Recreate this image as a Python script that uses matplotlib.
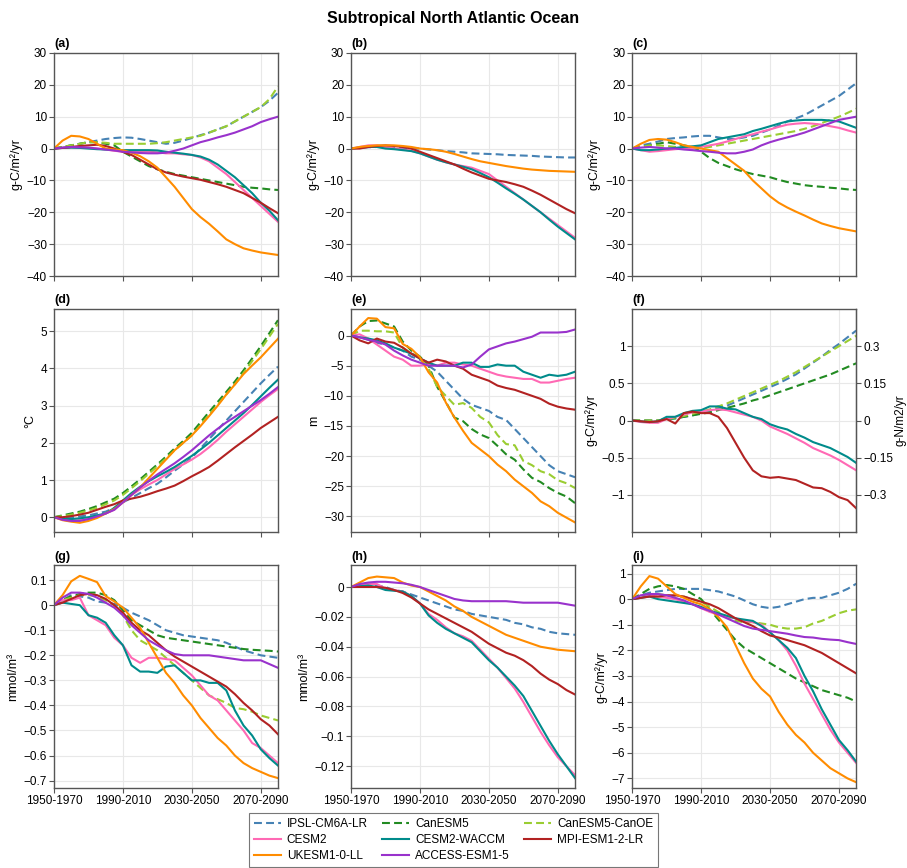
import numpy as np
import matplotlib
matplotlib.use("Agg")
import matplotlib.pyplot as plt
from matplotlib.ticker import FuncFormatter

plt.rcParams['font.family'] = ['Liberation Sans', 'DejaVu Sans']
plt.rcParams['axes.unicode_minus'] = True

# 20-yr window start years (1950-1970 ... 2080-2100), 5-yr steps
years = list(range(1950, 2081, 5))
period_ticks = [1950, 1990, 2030, 2070]
period_labels = ["1950-1970", "1990-2010", "2030-2050", "2070-2090"]

models = ["IPSL-CM6A-LR", "CanESM5", "CanESM5-CanOE", "CESM2", "CESM2-WACCM",
          "MPI-ESM1-2-LR", "UKESM1-0-LL", "ACCESS-ESM1-5"]
colors = {"IPSL-CM6A-LR": "#4682B4", "CanESM5": "#228B22", "CanESM5-CanOE": "#9ACD32",
          "CESM2": "#FF69B4", "CESM2-WACCM": "#008B8B", "MPI-ESM1-2-LR": "#B22222",
          "UKESM1-0-LL": "#FF8C00", "ACCESS-ESM1-5": "#9932CC"}
dashed = {"IPSL-CM6A-LR", "CanESM5", "CanESM5-CanOE"}

# (a) g-C/m2/yr
panel_a = {
    "IPSL-CM6A-LR": [0, 0.5, 1, 1.5, 2, 2.5, 3, 3.3, 3.5, 3.4, 3, 2.5, 2, 1.5, 1.8, 2.5, 3.3, 4.2, 5, 6, 7, 8.5, 10, 11.5, 13, 15, 17.5],
    "CanESM5": [0, 0.5, 1, 1.5, 2, 2, 1.5, 1, -1, -2.5, -4, -5.5, -6.5, -7.3, -8, -8.5, -9, -9.5, -10, -10.5, -11, -11.5, -12, -12.3, -12.5, -12.8, -13],
    "CanESM5-CanOE": [0, 0.5, 1, 1.5, 2, 2, 1.8, 1.5, 1.5, 1.5, 1.5, 1.5, 1.7, 2, 2.5, 3, 3.5, 4, 5, 6, 7, 8.5, 10, 11.5, 13, 15.5, 19.5],
    "CESM2": [0, 0.2, 0.3, 0.3, 0.2, 0, -0.3, -0.7, -1, -1, -1, -1, -1.2, -1.5, -1.5, -1.8, -2, -2.8, -4, -6, -8, -10.5, -13, -15.5, -18, -20.5, -23],
    "CESM2-WACCM": [0, 0.2, 0.3, 0.2, 0, -0.2, -0.3, -0.4, -0.5, -0.5, -0.5, -0.5, -0.6, -1, -1.3, -1.6, -2, -2.5, -3.5, -5, -7, -9, -11.5, -14, -17, -19.5, -22.5],
    "MPI-ESM1-2-LR": [0, 0.2, 0.5, 0.8, 1, 1.2, 0.8, 0, -1, -2, -3.5, -5, -6.5, -7.5, -8.2, -8.8, -9.3, -9.8, -10.5, -11.2, -12, -13, -14, -15.5, -17, -18.7, -20.3],
    "UKESM1-0-LL": [0, 2.5, 4, 3.8, 3, 1.5, 0, -0.3, -0.5, -1.3, -2.4, -4, -6, -9, -12, -15.5, -19, -21.5, -23.6, -26, -28.5, -30, -31.3, -32, -32.6, -33, -33.4],
    "ACCESS-ESM1-5": [0, 0.3, 0.5, 0.4, 0.3, 0, -0.3, -0.6, -1, -1.2, -1.4, -1.5, -1.5, -1.3, -0.7, 0, 1, 2, 2.7, 3.5, 4.2, 5, 6, 7, 8.3, 9.2, 10],
}

# (b) g-C/m2/yr
panel_b = {
    "IPSL-CM6A-LR": [0, 0.2, 0.4, 0.5, 0.4, 0.2, 0.1, 0, 0, -0.3, -0.5, -0.8, -1, -1.2, -1.5, -1.6, -1.7, -1.8, -2, -2.1, -2.2, -2.3, -2.5, -2.6, -2.7, -2.8, -2.8],
    "CESM2": [0, 0.5, 1, 1, 0.5, 0, -0.3, -0.7, -1.5, -2.5, -3.5, -4.3, -5, -5.5, -6, -7, -8, -10, -12, -14, -16, -18, -20, -22, -24, -26, -28],
    "CESM2-WACCM": [0, 0.3, 0.5, 0.5, 0, -0.2, -0.5, -0.8, -1.5, -2.5, -3.5, -4.3, -5, -5.7, -6.5, -7.7, -9, -10.7, -12.5, -14.2, -16, -18, -20, -22.3, -24.5, -26.5, -28.5],
    "MPI-ESM1-2-LR": [0, 0, 0.5, 0.8, 1, 0.8, 0.5, 0, -1, -2, -3, -4, -5, -6.3, -7.5, -8.5, -9.5, -10, -10.5, -11.2, -12, -13.2, -14.5, -16, -17.5, -19, -20.3],
    "UKESM1-0-LL": [0, 0.5, 0.8, 1, 1, 1, 0.8, 0.5, 0, -0.2, -0.5, -1, -1.7, -2.5, -3.3, -4, -4.5, -5, -5.5, -5.9, -6.3, -6.6, -6.8, -7, -7.1, -7.2, -7.3],
}

# (c) g-C/m2/yr
panel_c = {
    "IPSL-CM6A-LR": [0, 1, 1.5, 2.2, 3, 3.3, 3.5, 3.8, 4, 4, 3.5, 3, 3, 3.5, 4, 5, 6, 7.2, 8.5, 9.5, 10.5, 12, 13.5, 15, 16.5, 18.5, 20.5],
    "CanESM5": [0, 0.5, 1, 1.5, 2, 1.5, 1, 0.5, -1, -3, -4.5, -5.5, -6.5, -7.3, -8, -8.5, -9, -9.8, -10.5, -11, -11.5, -11.8, -12, -12.3, -12.5, -12.8, -13],
    "CanESM5-CanOE": [0, 0.5, 1, 1, 0.8, 0.5, 0.2, 0, 0.2, 0.5, 1, 1.5, 2, 2.5, 3, 3.5, 4, 4.5, 5, 5.5, 6.2, 7, 8, 9, 10, 11.2, 12.5],
    "CESM2": [0, -0.5, -1, -0.8, -0.5, -0.2, 0, 0.2, 0.5, 1, 1.5, 2.2, 3, 3.8, 4.5, 5.3, 6, 6.8, 7.5, 7.8, 8, 7.8, 7.5, 7, 6.5, 5.7, 5],
    "CESM2-WACCM": [0, -0.5, -0.5, -0.3, 0, 0.2, 0.5, 0.7, 1, 2, 3, 3.5, 4, 4.5, 5.5, 6.2, 7, 7.8, 8.5, 8.8, 9, 9, 9, 8.8, 8.5, 7.5, 6.5],
    "UKESM1-0-LL": [0, 1.5, 2.7, 3, 2.8, 2, 1, 0.5, 0, -0.5, -1, -3, -5, -7, -10, -12.5, -15, -17, -18.5, -19.8, -21, -22.3, -23.5, -24.3, -25, -25.5, -26],
    "ACCESS-ESM1-5": [0, 0.3, 0.5, 0.3, 0, 0, -0.3, -0.5, -0.8, -1, -1.3, -1.5, -1.5, -1, -0.3, 1, 2, 2.8, 3.5, 4.2, 5, 6, 7, 8, 9, 9.5, 10],
}

# (d) degC
panel_d = {
    "IPSL-CM6A-LR": [0, 0, 0, 0.02, 0.05, 0.1, 0.15, 0.25, 0.4, 0.52, 0.65, 0.78, 0.9, 1.07, 1.25, 1.42, 1.6, 1.85, 2.1, 2.35, 2.6, 2.85, 3.1, 3.35, 3.6, 3.83, 4.05],
    "CanESM5": [0, 0.05, 0.1, 0.15, 0.22, 0.3, 0.4, 0.5, 0.65, 0.83, 1.02, 1.22, 1.42, 1.63, 1.85, 2.05, 2.27, 2.55, 2.83, 3.1, 3.37, 3.65, 3.95, 4.27, 4.6, 4.95, 5.3],
    "CanESM5-CanOE": [0, 0.03, 0.07, 0.12, 0.18, 0.25, 0.35, 0.45, 0.6, 0.78, 0.97, 1.17, 1.37, 1.58, 1.8, 2.0, 2.2, 2.48, 2.75, 3.03, 3.3, 3.58, 3.88, 4.2, 4.52, 4.86, 5.2],
    "CESM2": [0, -0.05, -0.1, -0.08, -0.05, 0.02, 0.1, 0.2, 0.4, 0.6, 0.75, 0.88, 1.0, 1.15, 1.3, 1.42, 1.55, 1.7, 1.88, 2.08, 2.3, 2.5, 2.7, 2.9, 3.1, 3.28, 3.45],
    "CESM2-WACCM": [0, -0.03, -0.05, -0.03, 0, 0.05, 0.1, 0.25, 0.45, 0.65, 0.82, 0.97, 1.1, 1.22, 1.35, 1.5, 1.65, 1.82, 2.0, 2.2, 2.4, 2.6, 2.8, 3.02, 3.25, 3.48, 3.7],
    "MPI-ESM1-2-LR": [0, 0, 0.03, 0.07, 0.12, 0.2, 0.28, 0.35, 0.45, 0.5, 0.55, 0.62, 0.7, 0.77, 0.85, 0.97, 1.1, 1.22, 1.35, 1.52, 1.7, 1.88, 2.05, 2.22, 2.4, 2.55, 2.7],
    "UKESM1-0-LL": [0, -0.08, -0.12, -0.15, -0.1, -0.02, 0.1, 0.22, 0.4, 0.6, 0.8, 1.05, 1.3, 1.55, 1.8, 2.0, 2.2, 2.45, 2.72, 3.0, 3.3, 3.57, 3.85, 4.08, 4.3, 4.55, 4.8],
    "ACCESS-ESM1-5": [0, -0.07, -0.1, -0.1, -0.05, 0.02, 0.1, 0.2, 0.4, 0.6, 0.8, 0.98, 1.15, 1.3, 1.45, 1.62, 1.8, 2.0, 2.2, 2.38, 2.55, 2.7, 2.85, 3.0, 3.15, 3.32, 3.5],
}

# (e) m
panel_e = {
    "IPSL-CM6A-LR": [0, -0.3, -0.7, -1.2, -1.5, -2, -2.5, -3.5, -4, -5, -6, -7.5, -9, -10.5, -11.5, -12, -12.5, -13.5, -14, -15.5, -17, -18.5, -20, -21.5, -22.5, -23, -23.5],
    "CanESM5": [0, 1.5, 2.4, 2.5, 2.0, 1.5, -1.0, -2.5, -3.5, -5, -8.5, -11, -13.6, -14.2, -15.5, -16.4, -17, -18.3, -19.7, -20.6, -22.2, -23.6, -24.3, -25.3, -26.1, -26.7, -27.8],
    "CanESM5-CanOE": [0, 0.8, 0.8, 0.7, 0.7, 0.5, -2, -3, -3.5, -5.5, -8.5, -10, -11.5, -11.2, -12, -13.5, -14.4, -16.5, -18, -18.2, -20.8, -21.5, -22.5, -23, -24, -24.5, -25.3],
    "CESM2": [0, 0.2, -0.5, -1.5, -2.5, -3.5, -4, -5, -5, -4.8, -5, -4.5, -4.5, -4.8, -5, -5.5, -6, -6.5, -6.8, -7, -7.2, -7.2, -7.8, -7.8, -7.5, -7.2, -7],
    "CESM2-WACCM": [0, -0.3, -0.5, -0.8, -1.3, -2, -2.5, -3, -3.8, -4.5, -5, -5, -5, -4.5, -4.5, -5.2, -5.2, -4.8, -5, -5, -6, -6.5, -7, -6.5, -6.7, -6.5, -6],
    "MPI-ESM1-2-LR": [0, -0.8, -1.3, -0.5, -1.0, -1.2, -2, -3, -3.8, -4.5, -4.0, -4.3, -5, -5.5, -6.5, -7, -7.5, -8.3, -8.7, -9, -9.5, -10, -10.5, -11.3, -11.8, -12.1, -12.3],
    "UKESM1-0-LL": [0, 1.5, 2.9, 2.8, 1.4, 1.2, -1.4, -2.2, -3.6, -6.1, -7.8, -11.1, -13.6, -15.8, -17.8, -18.9, -20, -21.4, -22.5, -23.9, -25, -26.1, -27.5, -28.3, -29.4, -30.2, -31],
    "ACCESS-ESM1-5": [0, -0.3, -0.7, -1, -1.5, -2.5, -3.3, -4, -4.5, -5, -5, -5, -5, -5.3, -4.8, -3.5, -2.3, -1.8, -1.3, -1, -0.6, -0.2, 0.5, 0.5, 0.5, 0.6, 1],
}

# (f) g-C/m2/yr (right axis g-N/m2/yr)
panel_f = {
    "IPSL-CM6A-LR": [0, 0, 0, 0, 0.02, 0.03, 0.05, 0.07, 0.1, 0.13, 0.17, 0.2, 0.25, 0.3, 0.35, 0.4, 0.45, 0.5, 0.56, 0.62, 0.7, 0.78, 0.86, 0.95, 1.03, 1.12, 1.21],
    "CanESM5": [0, 0, 0, 0, 0.02, 0.03, 0.05, 0.07, 0.09, 0.11, 0.14, 0.17, 0.2, 0.23, 0.27, 0.3, 0.34, 0.38, 0.42, 0.46, 0.5, 0.54, 0.58, 0.62, 0.67, 0.72, 0.77],
    "CanESM5-CanOE": [0, 0, 0, 0, 0.02, 0.04, 0.06, 0.09, 0.12, 0.15, 0.19, 0.23, 0.28, 0.33, 0.38, 0.43, 0.48, 0.53, 0.59, 0.65, 0.72, 0.79, 0.86, 0.93, 1.0, 1.07, 1.14],
    "CESM2": [0, -0.02, -0.03, -0.03, 0.02, 0.05, 0.08, 0.11, 0.12, 0.14, 0.15, 0.14, 0.11, 0.08, 0.05, 0.0, -0.08, -0.13, -0.18, -0.24, -0.3, -0.37, -0.42, -0.47, -0.53, -0.6, -0.67],
    "CESM2-WACCM": [0, -0.01, -0.02, -0.01, 0.05, 0.05, 0.1, 0.13, 0.14, 0.19, 0.19, 0.16, 0.15, 0.1, 0.05, 0.02, -0.05, -0.09, -0.12, -0.18, -0.23, -0.29, -0.33, -0.37, -0.43, -0.49, -0.57],
    "MPI-ESM1-2-LR": [0, -0.01, -0.02, -0.01, 0.02, -0.04, 0.1, 0.12, 0.1, 0.1, 0.05, -0.1, -0.3, -0.5, -0.67, -0.75, -0.77, -0.76, -0.78, -0.8, -0.85, -0.9, -0.91, -0.96, -1.03, -1.07, -1.18],
}

# (g) mmol/m3
panel_g = {
    "IPSL-CM6A-LR": [0, 0.02, 0.04, 0.035, 0.03, 0.015, 0.01, 0.005, -0.01, -0.03, -0.045, -0.06, -0.08, -0.1, -0.11, -0.12, -0.125, -0.13, -0.135, -0.14, -0.15, -0.165, -0.18, -0.19, -0.2, -0.205, -0.21],
    "CanESM5": [0, 0.02, 0.035, 0.045, 0.05, 0.05, 0.04, 0.02, -0.02, -0.06, -0.08, -0.1, -0.12, -0.13, -0.135, -0.14, -0.145, -0.15, -0.155, -0.16, -0.165, -0.17, -0.175, -0.178, -0.18, -0.182, -0.185],
    "CanESM5-CanOE": [0, 0.02, 0.03, 0.04, 0.04, 0.035, 0.02, 0.0, -0.04, -0.1, -0.14, -0.16, -0.18, -0.21, -0.24, -0.27, -0.3, -0.33, -0.36, -0.375, -0.39, -0.41, -0.415, -0.425, -0.44, -0.45, -0.46],
    "CESM2": [0, 0.02, 0.02, 0.03, -0.04, -0.06, -0.08, -0.13, -0.16, -0.21, -0.23, -0.21, -0.21, -0.215, -0.22, -0.25, -0.28, -0.32, -0.36, -0.38, -0.42, -0.46, -0.5, -0.55, -0.57, -0.6, -0.63],
    "CESM2-WACCM": [0, 0.01, 0.005, 0.0, -0.04, -0.05, -0.07, -0.12, -0.16, -0.24, -0.265, -0.265, -0.27, -0.245, -0.24, -0.27, -0.3, -0.3, -0.31, -0.31, -0.34, -0.42, -0.48, -0.52, -0.575, -0.61, -0.64],
    "MPI-ESM1-2-LR": [0, 0.01, 0.025, 0.04, 0.045, 0.04, 0.025, 0.0, -0.03, -0.07, -0.1, -0.12, -0.15, -0.18, -0.205, -0.225, -0.245, -0.265, -0.285, -0.305, -0.325, -0.355, -0.39, -0.42, -0.455, -0.48, -0.515],
    "UKESM1-0-LL": [0, 0.04, 0.095, 0.117, 0.105, 0.092, 0.036, 0.015, -0.01, -0.05, -0.09, -0.15, -0.21, -0.27, -0.31, -0.36, -0.4, -0.45, -0.49, -0.53, -0.56, -0.6, -0.63, -0.65, -0.665, -0.68, -0.69],
    "ACCESS-ESM1-5": [0, 0.03, 0.05, 0.05, 0.045, 0.03, 0.01, -0.01, -0.04, -0.08, -0.11, -0.14, -0.16, -0.18, -0.195, -0.2, -0.2, -0.2, -0.2, -0.205, -0.21, -0.215, -0.22, -0.22, -0.22, -0.235, -0.25],
}

# (h) mmol/m3
panel_h = {
    "IPSL-CM6A-LR": [0, 0.001, 0.002, 0.001, 0, -0.002, -0.003, -0.005, -0.007, -0.009, -0.011, -0.013, -0.015, -0.016, -0.018, -0.019, -0.02, -0.021, -0.022, -0.024, -0.025, -0.027, -0.028, -0.03, -0.031, -0.0315, -0.032],
    "CESM2": [0, 0.001, 0.002, 0.002, -0.001, -0.002, -0.003, -0.006, -0.011, -0.018, -0.022, -0.027, -0.031, -0.033, -0.036, -0.042, -0.048, -0.054, -0.061, -0.068, -0.077, -0.087, -0.097, -0.106, -0.114, -0.12, -0.126],
    "CESM2-WACCM": [0, 0.0005, 0.001, 0.0, -0.002, -0.0025, -0.003, -0.006, -0.011, -0.019, -0.024, -0.028, -0.031, -0.034, -0.037, -0.043, -0.049, -0.054, -0.06, -0.066, -0.073, -0.083, -0.093, -0.103, -0.112, -0.12, -0.128],
    "MPI-ESM1-2-LR": [0, 0, 0, 0, -0.0005, -0.002, -0.004, -0.007, -0.011, -0.015, -0.018, -0.021, -0.024, -0.027, -0.03, -0.034, -0.038, -0.041, -0.044, -0.046, -0.049, -0.053, -0.058, -0.062, -0.065, -0.069, -0.072],
    "UKESM1-0-LL": [0, 0.003, 0.006, 0.007, 0.0065, 0.006, 0.003, 0.001, 0, -0.003, -0.006, -0.009, -0.013, -0.016, -0.02, -0.023, -0.026, -0.029, -0.032, -0.034, -0.036, -0.038, -0.04, -0.041, -0.042, -0.0425, -0.043],
    "ACCESS-ESM1-5": [0, 0.002, 0.003, 0.0035, 0.0035, 0.003, 0.0025, 0.0015, 0, -0.002, -0.004, -0.006, -0.008, -0.009, -0.0095, -0.0095, -0.0095, -0.0095, -0.0095, -0.01, -0.0105, -0.0105, -0.0105, -0.0105, -0.0105, -0.0115, -0.0125],
}

# (i) g-C/m2/yr
panel_i = {
    "IPSL-CM6A-LR": [0, 0.15, 0.25, 0.3, 0.35, 0.4, 0.4, 0.4, 0.4, 0.35, 0.3, 0.2, 0.1, -0.05, -0.2, -0.3, -0.35, -0.3, -0.2, -0.1, 0.0, 0.05, 0.05, 0.15, 0.25, 0.4, 0.6],
    "CanESM5": [0, 0.2, 0.4, 0.5, 0.55, 0.5, 0.4, 0.2, 0.0, -0.4, -0.8, -1.2, -1.6, -1.9, -2.1, -2.3, -2.5, -2.7, -2.9, -3.1, -3.25, -3.4, -3.55, -3.65, -3.75, -3.85, -4.0],
    "CanESM5-CanOE": [0, 0.1, 0.15, 0.2, 0.15, 0.1, 0.1, 0.0, -0.1, -0.3, -0.5, -0.7, -0.85, -0.9, -0.9, -0.95, -1.0, -1.1, -1.15, -1.15, -1.1, -0.95, -0.85, -0.7, -0.55, -0.45, -0.4],
    "CESM2": [0, 0.05, 0.15, 0.1, 0.05, 0.0, -0.1, -0.2, -0.35, -0.5, -0.6, -0.7, -0.75, -0.85, -0.9, -1.0, -1.3, -1.6, -2.0, -2.6, -3.3, -3.9, -4.5, -5.1, -5.6, -6.0, -6.4],
    "CESM2-WACCM": [0, 0.05, 0.1, 0.0, -0.05, -0.1, -0.15, -0.2, -0.3, -0.45, -0.55, -0.65, -0.75, -0.8, -0.85, -1.05, -1.3, -1.6, -1.9, -2.3, -3.0, -3.6, -4.3, -4.9, -5.5, -5.9, -6.35],
    "MPI-ESM1-2-LR": [0, 0.05, 0.1, 0.1, 0.15, 0.15, 0.1, 0.0, -0.1, -0.2, -0.35, -0.55, -0.75, -0.9, -1.05, -1.25, -1.42, -1.5, -1.6, -1.7, -1.8, -1.95, -2.1, -2.3, -2.5, -2.7, -2.9],
    "UKESM1-0-LL": [0, 0.5, 0.9, 0.8, 0.5, 0.2, 0.05, -0.1, -0.2, -0.4, -0.7, -1.1, -1.8, -2.5, -3.1, -3.5, -3.8, -4.4, -4.9, -5.3, -5.6, -6.0, -6.3, -6.6, -6.8, -7.0, -7.15],
    "ACCESS-ESM1-5": [0, 0.15, 0.2, 0.2, 0.15, 0.05, -0.05, -0.2, -0.35, -0.45, -0.6, -0.75, -0.9, -1.05, -1.15, -1.2, -1.25, -1.3, -1.35, -1.42, -1.48, -1.5, -1.55, -1.58, -1.6, -1.68, -1.75],
}

panels = [
    ("(a)", panel_a, "g-C/m\u00b2/yr", (-40, 30), [-40, -30, -20, -10, 0, 10, 20, 30]),
    ("(b)", panel_b, "g-C/m\u00b2/yr", (-40, 30), [-40, -30, -20, -10, 0, 10, 20, 30]),
    ("(c)", panel_c, "g-C/m\u00b2/yr", (-40, 30), [-40, -30, -20, -10, 0, 10, 20, 30]),
    ("(d)", panel_d, "\u00b0C", (-0.4, 5.6), [0, 1, 2, 3, 4, 5]),
    ("(e)", panel_e, "m", (-32.6, 4.4), [-30, -25, -20, -15, -10, -5, 0]),
    ("(f)", panel_f, "g-C/m\u00b2/yr", (-1.5, 1.5), [-1, -0.5, 0, 0.5, 1]),
    ("(g)", panel_g, "mmol/m\u00b3", (-0.73, 0.16), [-0.7, -0.6, -0.5, -0.4, -0.3, -0.2, -0.1, 0, 0.1]),
    ("(h)", panel_h, "mmol/m\u00b3", (-0.1347, 0.0147), [-0.12, -0.1, -0.08, -0.06, -0.04, -0.02, 0]),
    ("(i)", panel_i, "g-C/m\u00b2/yr", (-7.38, 1.33), [-7, -6, -5, -4, -3, -2, -1, 0, 1]),
]

def fmt(v, pos=None):
    s = f"{round(v, 6):g}"
    return s.replace("-", "\u2212")

fig = plt.figure(figsize=(9.07, 8.68), dpi=100)
lefts = [0.0595, 0.387, 0.697]
bottoms = [0.682, 0.387, 0.092]
w, h = 0.247, 0.257
tick_kw = dict(direction="out", length=3.5, width=0.8, color="#555555", labelsize=8.5, pad=1.5)

handles = {}
for k, (lab, data, ylab, ylim, yt) in enumerate(panels):
    r, c = divmod(k, 3)
    ax = fig.add_axes([lefts[c], bottoms[r], w, h])
    for m in models:
        if m not in data:
            continue
        ls = (0, (3.8, 2.0)) if m in dashed else "-"
        ln, = ax.plot(years, data[m], color=colors[m], lw=1.5, ls=ls, label=m)
        handles[m] = ln
    ax.set_xlim(1950, 2080)
    ax.set_ylim(*ylim)
    ax.set_yticks(yt)
    ax.yaxis.set_major_formatter(FuncFormatter(fmt))
    ax.set_xticks(period_ticks)
    if r == 2:
        ax.set_xticklabels(period_labels)
    else:
        ax.set_xticklabels([])
    ax.grid(True, color="#e8e8e8", lw=0.8)
    ax.set_axisbelow(True)
    for sp in ax.spines.values():
        sp.set_color("#555555")
        sp.set_linewidth(1.0)
    ax.tick_params(**tick_kw)
    ax.set_ylabel(ylab, fontsize=9, labelpad=3)
    ax.set_title(lab, loc="left", fontsize=9, fontweight="bold", pad=4)
    if lab == "(f)":
        sec = ax.secondary_yaxis("right", functions=(lambda y: y * 0.3, lambda y: y / 0.3))
        sec.set_yticks([-0.3, -0.15, 0, 0.15, 0.3])
        sec.yaxis.set_major_formatter(FuncFormatter(fmt))
        sec.tick_params(**tick_kw)
        sec.set_ylabel("g-N/m2/yr", fontsize=8.5, labelpad=1)

fig.text(0.5, 0.979, "Subtropical North Atlantic Ocean", fontsize=11.5,
         fontweight="bold", ha="center", va="center")

order = ["IPSL-CM6A-LR", "CESM2", "UKESM1-0-LL", "CanESM5", "CESM2-WACCM",
         "ACCESS-ESM1-5", "CanESM5-CanOE", "MPI-ESM1-2-LR"]
leg = fig.legend([handles[m] for m in order], order, loc="lower center",
                 bbox_to_anchor=(0.5, 0.0), ncol=3, fontsize=8.5, frameon=True,
                 fancybox=False, edgecolor="#555555", handlelength=2.3,
                 handletextpad=0.5, columnspacing=1.2, labelspacing=0.35,
                 borderpad=0.4, borderaxespad=0.1)
leg.get_frame().set_linewidth(0.8)

fig.savefig("out.png", dpi=100)
